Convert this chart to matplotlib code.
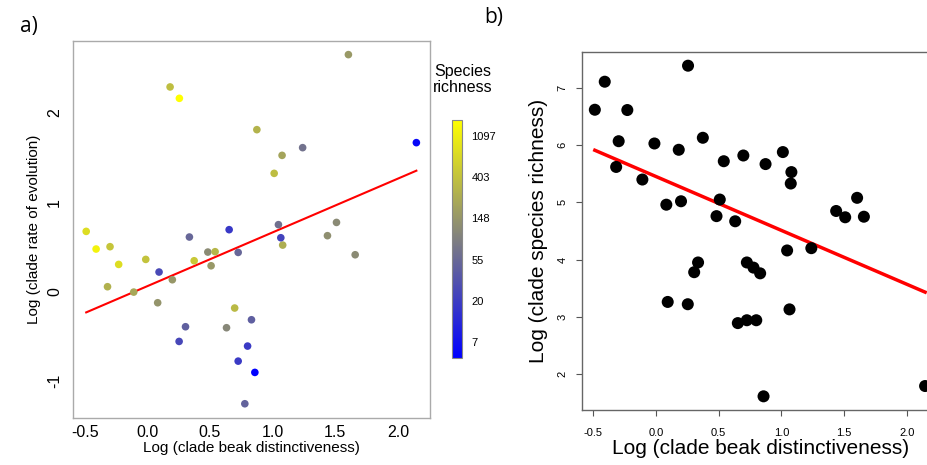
import numpy as np
import matplotlib
matplotlib.use("Agg")
import matplotlib.pyplot as plt
from matplotlib.colors import LinearSegmentedColormap, Normalize
from matplotlib.cm import ScalarMappable

plt.rcParams['font.family'] = ['Liberation Sans', 'DejaVu Sans']
plt.rcParams['axes.unicode_minus'] = False

######### data ##########
# log clade beak distinctiveness
beak = [-0.487, -0.408, -0.228, -0.297, -0.317, -0.108, -0.012, 0.083, 0.094, 0.182,
        0.200, 0.256, 0.254, 0.305, 0.336, 0.374, 0.483, 0.509, 0.541, 0.632,
        0.653, 0.697, 0.725, 0.725, 0.778, 0.831, 0.800, 0.858, 0.874, 1.012,
        1.080, 1.075, 1.046, 1.065, 1.239, 1.437, 1.509, 1.604, 1.658, 2.146]
# log clade rate of evolution
rate = [0.674, 0.477, 0.305, 0.503, 0.056, -0.004, 0.361, -0.123, 0.220, 2.287,
        0.134, 2.160, -0.555, -0.391, 0.611, 0.346, 0.443, 0.290, 0.447, -0.402,
        0.693, -0.182, 0.439, -0.775, -1.251, -0.313, -0.607, -0.901, 1.810, 1.322,
        0.521, 1.523, 0.749, 0.603, 1.609, 0.626, 0.774, 2.648, 0.413, 1.665]
# log clade species richness
richness = [6.62, 7.11, 6.615, 6.07, 5.62, 5.40, 6.03, 4.96, 3.26, 5.92,
            5.02, 7.39, 3.22, 3.78, 3.95, 6.13, 4.76, 5.05, 5.72, 4.67,
            2.89, 5.82, 3.95, 2.94, 3.86, 3.76, 2.94, 1.61, 5.67, 5.88,
            5.53, 5.33, 4.16, 3.13, 4.20, 4.85, 4.74, 5.08, 4.75, 1.79]
# fitted lines (intercept, slope)
fit_a = (0.062, 0.601)
fit_b = (5.453, -0.942)
cbar_ticks = [2, 3, 4, 5, 6, 7]
######### data ##########

beak = np.array(beak)
rate = np.array(rate)
richness = np.array(richness)

cmap = LinearSegmentedColormap.from_list('byg', ['#0000ff', '#7f7f7f', '#ffff00'])
norm = Normalize(vmin=richness.min(), vmax=richness.max())

fig = plt.figure(figsize=(9.28, 4.65), dpi=100)

# ---- panel a ----
ax1 = fig.add_axes([0.0787, 0.1011, 0.3847, 0.8107])
ax1.scatter(beak, rate, c=richness, cmap=cmap, norm=norm, s=30, edgecolors='none', zorder=3)
xl = np.array([beak.min(), beak.max()])
ax1.plot(xl, fit_a[0] + fit_a[1] * xl, color='red', lw=1.5, zorder=2)
ax1.set_xlim(-0.592, 2.255)
ax1.set_ylim(-1.41, 2.80)
ax1.set_xticks([-0.5, 0.0, 0.5, 1.0, 1.5, 2.0])
ax1.set_xticklabels(['-0.5', '0.0', '0.5', '1.0', '1.5', '2.0'])
ax1.set_yticks([-1, 0, 1, 2])
ax1.tick_params(axis='both', length=0, labelsize=11.5)
ax1.tick_params(axis='x', pad=5)
ax1.tick_params(axis='y', pad=8)
for t in ax1.get_yticklabels():
    t.set_rotation(90)
    t.set_va('center')
for s in ax1.spines.values():
    s.set_color('#aaaaaa')
    s.set_linewidth(1)
ax1.set_xlabel('Log (clade beak distinctiveness)', fontsize=11, labelpad=1)
ax1.set_ylabel('Log (clade rate of evolution)', fontsize=11, labelpad=4)

# colorbar
cax = fig.add_axes([0.4874, 0.2301, 0.0101, 0.5118])
cb = fig.colorbar(ScalarMappable(norm=norm, cmap=cmap), cax=cax)
cb.set_ticks(cbar_ticks)
cb.set_ticklabels([str(int(round(np.exp(v)))) for v in cbar_ticks])
cb.ax.tick_params(length=0, labelsize=8, pad=7)
cb.outline.set_edgecolor('#888888')
cb.outline.set_linewidth(0.8)
fig.text(0.499, 0.829, 'Species\nrichness', ha='center', va='center', fontsize=11.5,
         linespacing=1.15)

# ---- panel b ----
ax2 = fig.add_axes([0.6268, 0.1183, 0.3848, 0.7692])
ax2.scatter(beak, richness, color='black', s=75, edgecolors='none', zorder=3)
ax2.plot(xl, fit_b[0] + fit_b[1] * xl, color='red', lw=2.5, zorder=2)
ax2.set_xlim(-0.592, 2.255)
ax2.set_ylim(1.371, 7.624)
ax2.set_xticks([-0.5, 0.0, 0.5, 1.0, 1.5, 2.0])
ax2.set_xticklabels(['-0.5', '0.0', '0.5', '1.0', '1.5', '2.0'])
ax2.set_yticks([2, 3, 4, 5, 6, 7])
ax2.tick_params(axis='both', length=4, width=0.8, color='#555555', labelsize=8)
ax2.tick_params(axis='x', pad=9)
ax2.tick_params(axis='y', pad=6)
for t in ax2.get_yticklabels():
    t.set_rotation(90)
    t.set_va('center')
for s in ax2.spines.values():
    s.set_color('#666666')
    s.set_linewidth(1)
ax2.set_xlabel('Log (clade beak distinctiveness)', fontsize=15, labelpad=1)
ax2.set_ylabel('Log (clade species richness)', fontsize=15, labelpad=7)

fig.text(0.022, 0.942, 'a)', fontsize=15, family=['Open Sans', 'DejaVu Sans'], va='center')
fig.text(0.522, 0.962, 'b)', fontsize=15, family=['Open Sans', 'DejaVu Sans'], va='center')

fig.savefig('out.png', dpi=100)
